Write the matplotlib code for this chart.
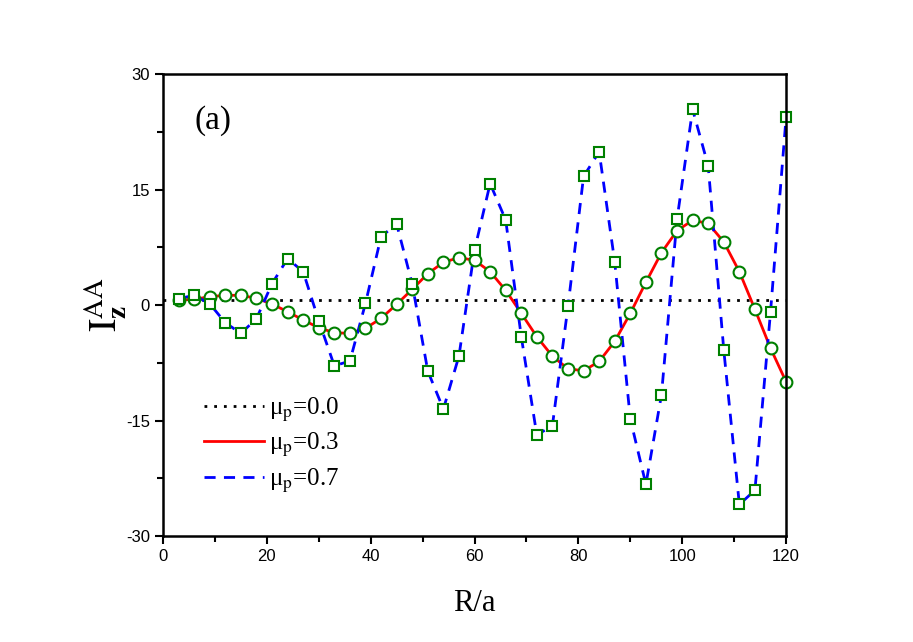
import numpy as np
import matplotlib
matplotlib.use('Agg')
import matplotlib.pyplot as plt
from matplotlib.ticker import MultipleLocator

plt.rcParams['mathtext.fontset'] = 'stix'
plt.rcParams['axes.unicode_minus'] = False

# data
R = np.arange(3, 121, 3)
mu00 = np.full(len(R), 0.65)
mu03 = [0.65, 0.74, 1.08, 1.26, 1.26, 0.87, 0.13, -0.87, -1.95, -2.95,
        -3.6, -3.68, -3.03, -1.73, 0.09, 2.04, 4.07, 5.55, 6.15, 5.81,
        4.33, 1.91, -1.08, -4.12, -6.65, -8.28, -8.54, -7.33, -4.72, -1.08,
        2.95, 6.8, 9.66, 11.0, 10.6, 8.19, 4.33, -0.56, -5.6, -9.97]
mu07 = [0.82, 1.26, 0.17, -2.3, -3.68, -1.78, 2.77, 6.02, 4.33, -2.04,
        -7.89, -7.28, 0.22, 8.88, 10.53, 2.73, -8.58, -13.52, -6.63, 7.13,
        15.77, 11.05, -4.1, -16.9, -15.65, -0.17, 16.7, 19.9, 5.59, -14.8,
        -23.3, -11.66, 11.14, 25.4, 18.07, -5.85, -25.9, -24.06, -0.91, 24.36]

fig = plt.figure(figsize=(9.13, 6.42), dpi=100)
ax = fig.add_axes([0.1785, 0.1651, 0.6825, 0.7196])

ax.plot([0, 120], [mu00[0], mu00[0]], color='black', ls=(0, (1, 2.5)), lw=2,
        label='μ$_\\mathrm{p}$=0.0')
ax.plot(R, mu03, color='red', lw=2, label='μ$_\\mathrm{p}$=0.3')
ax.plot(R, mu07, color='blue', lw=2, ls=(0, (4, 3)), label='μ$_\\mathrm{p}$=0.7')
ax.plot(R, mu03, ls='none', marker='o', ms=8.5, mfc='white', mec='green', mew=1.5,
        clip_on=False)
ax.plot(R, mu07, ls='none', marker='s', ms=7, mfc='white', mec='green', mew=1.5,
        clip_on=False)

ax.set_xlim(0, 120)
ax.set_ylim(-30, 30)
ax.xaxis.set_major_locator(MultipleLocator(20))
ax.xaxis.set_minor_locator(MultipleLocator(10))
ax.yaxis.set_major_locator(MultipleLocator(15))
ax.yaxis.set_minor_locator(MultipleLocator(7.5))
ax.tick_params(which='major', direction='out', length=6, width=1.5,
               labelsize=12, top=False, right=False)
ax.tick_params(which='minor', direction='out', length=4, width=1.5,
               top=False, right=False)
for lab in ax.get_xticklabels() + ax.get_yticklabels():
    lab.set_family('Liberation Sans')
for s in ax.spines.values():
    s.set_linewidth(1.8)

ax.set_xlabel('R/a', family='Liberation Serif', fontsize=22, labelpad=18)
ax.set_ylabel(r'$\mathrm{I}_{\mathbf{z}}^{\mathrm{AA}}$', fontsize=28, labelpad=-2)
ax.text(0.05, 0.9, '(a)', transform=ax.transAxes, family='Liberation Serif',
        fontsize=24, ha='left', va='center')

leg = ax.legend(loc='lower left', bbox_to_anchor=(0.03, 0.04), frameon=False,
                prop={'family': 'Liberation Serif', 'size': 18},
                handlelength=2.4, handletextpad=0.2, labelspacing=0.3)

fig.savefig('out.png', dpi=100)
